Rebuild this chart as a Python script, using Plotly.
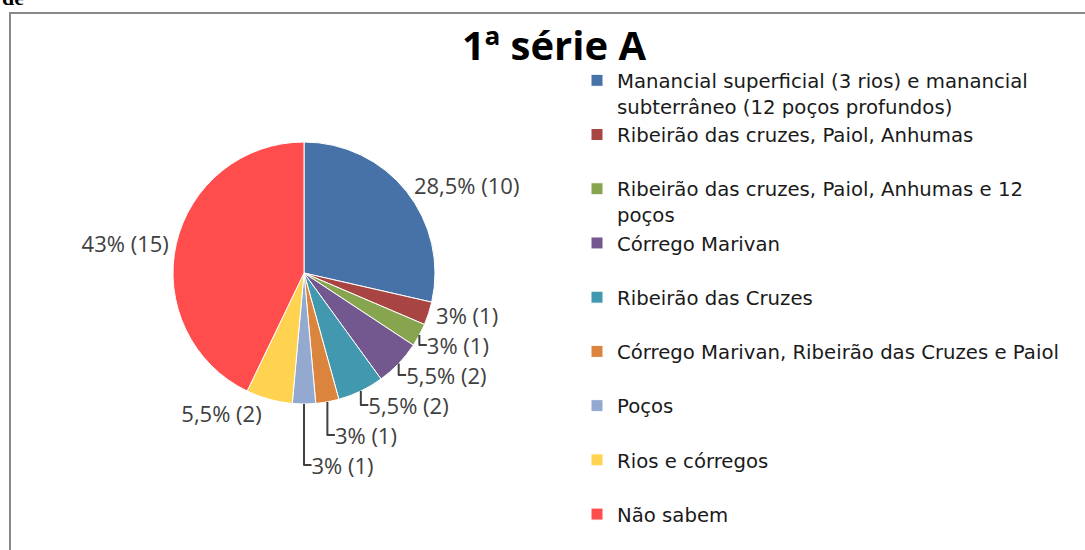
import plotly.graph_objects as go

categories = [
    "Manancial superficial (3 rios) e manancial<br>subterrâneo (12 poços profundos)",
    "Ribeirão das cruzes, Paiol, Anhumas<br>&nbsp;",
    "Ribeirão das cruzes, Paiol, Anhumas e 12<br>poços",
    "Córrego Marivan<br>&nbsp;",
    "Ribeirão das Cruzes<br>&nbsp;",
    "Córrego Marivan, Ribeirão das Cruzes e Paiol<br>&nbsp;",
    "Poços<br>&nbsp;",
    "Rios e córregos<br>&nbsp;",
    "Não sabem",
]
counts = [10, 1, 1, 2, 2, 1, 1, 2, 15]
percent_labels = ["28,5%", "3%", "3%", "5,5%", "5,5%", "3%", "3%", "5,5%", "43%"]
colors = ["#4672A8", "#A84542", "#87A54E", "#72588F", "#4298AF",
          "#DB843D", "#93A9D0", "#FFD34F", "#FF4D4D"]

slice_text = [f"{p} ({c})" for p, c in zip(percent_labels, counts)]

W, H = 1085, 550
cx, cy, r = 304, 273, 131

fig = go.Figure(go.Pie(
    labels=categories,
    values=counts,
    text=slice_text,
    textinfo="text",
    textposition="outside",
    sort=False,
    direction="clockwise",
    rotation=0,
    marker=dict(colors=colors, line=dict(color="white", width=1)),
    textfont=dict(family="Open Sans", size=22, color="#404040"),
    domain=dict(x=[(cx - r) / W, (cx + r) / W], y=[(H - cy - r) / H, (H - cy + r) / H]),
    automargin=False,
    showlegend=True,
))

fig.update_layout(
    width=W, height=H,
    margin=dict(l=0, r=0, t=0, b=0),
    paper_bgcolor="white",
    plot_bgcolor="white",
    title=dict(text="<b>1ª série A</b>", x=554 / W, xanchor="center",
               y=1 - 46 / H, yanchor="middle",
               font=dict(family="Open Sans", size=40, color="black")),
    legend=dict(x=577 / W, xanchor="left", y=1 - 61 / H, yanchor="top",
                font=dict(family="DejaVu Sans", size=19.7, color="#1a1a1a"),
                valign="top", bgcolor="rgba(0,0,0,0)", maxheight=600),
    shapes=[dict(type="rect", xref="paper", yref="paper",
                 x0=10 / W, x1=1.02, y0=-0.02, y1=1 - 13 / H,
                 line=dict(color="#888888", width=2))],
    annotations=[dict(text="<b>de</b>", xref="paper", yref="paper",
                      x=0, y=1 - 12 / H, xanchor="left", yanchor="bottom",
                      showarrow=False,
                      font=dict(family="Liberation Serif", size=22, color="black"))],
)

fig.write_html("out.html", config={"displayModeBar": False},
               post_script="document.body.style.margin='0';")
